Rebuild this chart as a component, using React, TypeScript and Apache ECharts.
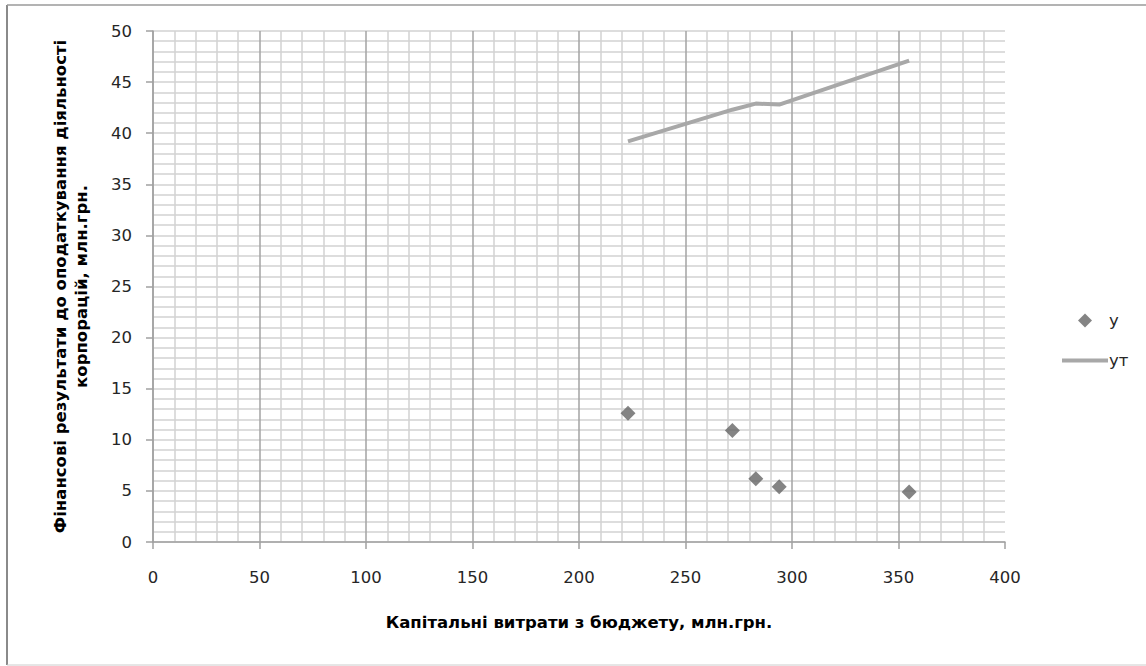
import React, { useEffect, useRef } from "react";
import * as echarts from "echarts";

const xValues = [223, 272, 283, 294, 355];
const yValues = [12.6, 10.9, 6.2, 5.4, 4.9];
const yTrend = [39.2, 42.3, 42.9, 42.8, 47.1];
const seriesNames = ["y", "yт"];
const xTitle = "Капітальні витрати з бюджету, млн.грн.";
const yTitle = "Фінансові результати до оподаткування діяльності\nкорпорацій, млн.грн.";

export default function App() {
  const ref = useRef<HTMLDivElement>(null);
  useEffect(() => {
    if (!ref.current) return;
    const chart = echarts.init(ref.current, null, { renderer: "svg" });
    const tickFont = { fontFamily: "DejaVu Sans", fontSize: 16.5, color: "#262626" };
    const titleFont = { fontFamily: "DejaVu Sans", fontSize: 16.5, fontWeight: "bold" as const, color: "#000000" };
    chart.setOption({
      animation: false,
      backgroundColor: "#ffffff",
      grid: { left: 153, right: 141, top: 31, bottom: 124, containLabel: false },
      xAxis: {
        type: "value",
        min: 0,
        max: 400,
        interval: 50,
        name: xTitle,
        nameLocation: "middle",
        nameGap: 72,
        nameTextStyle: titleFont,
        axisLine: { show: true, lineStyle: { color: "#a0a0a0", width: 1.5 } },
        axisTick: { show: true, inside: false, length: 7, lineStyle: { color: "#a0a0a0", width: 1.5 } },
        axisLabel: { ...tickFont, margin: 27 },
        splitLine: { show: true, showMaxLine: false, lineStyle: { color: "#a3a3a3", width: 1.5 } },
        minorTick: { show: false, splitNumber: 5 },
        minorSplitLine: { show: true, lineStyle: { color: "#d2d2d2", width: 1.5 } },
      },
      yAxis: {
        type: "value",
        min: 0,
        max: 50,
        interval: 5,
        name: yTitle,
        nameLocation: "middle",
        nameGap: 61,
        nameRotate: 90,
        nameTextStyle: { ...titleFont, lineHeight: 21, align: "center" },
        axisLine: { show: true, lineStyle: { color: "#a0a0a0", width: 1.5 } },
        axisTick: { show: true, inside: false, length: 7, lineStyle: { color: "#a0a0a0", width: 1.5 } },
        axisLabel: { ...tickFont, margin: 21 },
        splitLine: { show: true, lineStyle: { color: "#d2d2d2", width: 1.5 } },
        minorTick: { show: false, splitNumber: 5 },
        minorSplitLine: { show: true, lineStyle: { color: "#d2d2d2", width: 1.5 } },
      },
      legend: [
        {
          data: [seriesNames[0]],
          orient: "vertical",
          left: 1073,
          top: 307,
          icon: "diamond",
          itemWidth: 14,
          itemHeight: 14,
          textStyle: { fontFamily: "DejaVu Sans", fontSize: 16.5, color: "#262626", padding: [0, 0, 0, 12] },
        },
        {
          data: [seriesNames[1]],
          orient: "vertical",
          left: 1057,
          top: 347,
          icon: "rect",
          itemWidth: 46,
          itemHeight: 4,
          itemGap: 0,
          textStyle: { fontFamily: "DejaVu Sans", fontSize: 16.5, color: "#262626", padding: [0, 0, 0, -4] },
        },
      ],
      graphic: [
        { type: "line", shape: { x1: 7, y1: 5, x2: 7, y2: 665 }, style: { stroke: "#8a8a8a", lineWidth: 2 } },
        { type: "line", shape: { x1: 7, y1: 5, x2: 1146, y2: 5 }, style: { stroke: "#9a9a9a", lineWidth: 1.5 } },
        { type: "line", shape: { x1: 7, y1: 665, x2: 1146, y2: 665 }, style: { stroke: "#cccccc", lineWidth: 1 } },
      ],
      series: [
        {
          name: seriesNames[0],
          type: "scatter",
          symbol: "diamond",
          symbolSize: 15,
          itemStyle: { color: "#656565" },
          data: xValues.map((x, i) => [x, yValues[i]]),
          z: 3,
        },
        {
          name: seriesNames[1],
          type: "line",
          showSymbol: false,
          symbol: "none",
          lineStyle: { color: "#a8a8a8", width: 4 },
          itemStyle: { color: "#a8a8a8" },
          data: xValues.map((x, i) => [x, yTrend[i]]),
          z: 2,
        },
      ],
    });
    return () => chart.dispose();
  }, []);
  return (
    <div
      ref={ref}
      style={{ position: "absolute", left: 0, top: 0, width: 1146, height: 666, background: "#fff" }}
    />
  );
}
